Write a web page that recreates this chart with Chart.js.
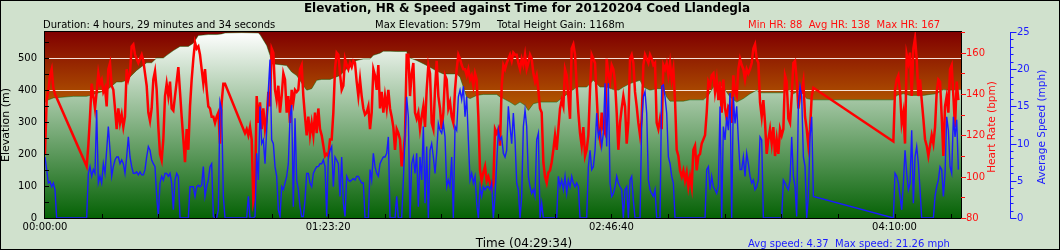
<!DOCTYPE html>
<html>
<head>
<meta charset="utf-8">
<title>Elevation, HR &amp; Speed against Time</title>
<script src="https://cdn.jsdelivr.net/npm/chart.js@4.4.0/dist/chart.umd.min.js"></script>
<style>
  html, body { margin: 0; padding: 0; background: #d0e1cd; }
  canvas { display: block; }
</style>
</head>
<body>
<canvas id="chart" width="1060" height="250"></canvas>
<script>
// one reading every SAMPLE_SEC seconds, ride length 4:29:34
const SAMPLE_SEC = 29.43;
const TOTAL_SEC = 16174;

// heart rate (bpm), null = no reading (line spans the gap)
const hr = [
  111,137,142,149,152,143,140,null,null,null,
  null,null,null,null,null,null,null,null,null,null,
  null,null,null,null,null,105,115,129,145,139,
  133,141,150,145,147,141,143,134,152,155,
  144,142,133,123,133,126,130,124,129,152,
  147,150,163,164,159,157,155,157,159,156,
  150,144,131,127,133,147,151,142,124,111,
  108,118,139,145,139,146,133,132,139,146,
  153,141,129,118,107,123,113,134,147,157,
  165,162,163,159,152,145,152,142,134,133,
  129,129,126,129,131,116,136,145,145,null,
  null,null,null,null,null,null,null,null,null,null,
  121,123,120,124,118,88,92,139,126,136,
  123,133,123,128,141,134,162,160,142,137,
  144,131,139,150,147,131,139,126,142,136,
  142,141,142,152,154,139,129,120,129,120,
  126,120,131,121,133,123,120,115,110,111,
  110,118,118,131,152,160,159,150,142,144,
  157,154,152,155,153,156,155,146,139,147,
  139,133,130,131,134,123,131,152,149,142,
  154,133,141,131,139,133,142,133,129,124,
  113,123,121,118,105,111,120,159,159,139,
  150,155,131,128,131,123,129,134,124,142,
  154,150,126,123,142,156,139,133,123,131,
  149,147,133,136,129,126,142,152,159,157,
  154,152,152,149,152,147,149,144,150,147,
  129,103,98,102,105,98,100,97,94,97,
  123,121,123,115,144,154,152,155,157,159,
  156,160,159,159,155,152,157,154,159,152,
  155,159,157,150,146,149,142,133,131,107,
  100,97,102,103,107,113,120,113,123,133,
  137,134,152,149,139,128,162,164,159,144,
  131,121,115,124,110,113,120,142,159,157,
  155,139,123,118,131,123,121,157,150,146,
  154,152,146,131,113,126,133,139,134,116,
  126,157,159,155,141,134,126,120,128,154,
  159,157,155,159,157,154,155,126,123,128,
  123,154,152,155,149,155,147,152,137,113,
  110,103,100,103,98,102,95,100,95,113,
  115,103,110,111,116,118,120,131,146,144,
  149,150,141,147,137,146,131,147,133,128,
  134,133,126,149,141,139,152,157,154,152,
  147,152,150,152,155,162,164,157,155,136,
  129,137,126,111,118,123,116,124,110,118,
  111,123,120,123,149,146,128,126,139,155,
  156,147,133,139,141,146,129,123,115,123,
  139,143,null,null,null,null,null,null,null,null,
  null,null,null,null,null,null,null,null,null,null,
  null,null,null,null,null,null,null,null,null,null,
  null,null,null,null,null,null,null,null,null,null,
  null,null,null,null,null,null,null,null,null,117,
  142,147,149,141,126,131,116,159,155,160,
  139,162,167,157,139,147,137,128,118,115,
  110,115,120,116,124,141,147,146,129,110,
  134,139,131,152,154,139,124,146,137
];

// average speed (mph)
const speed = [
  8.2,6.5,4.7,4.9,4.2,4.7,3.8,0,null,null,
  null,null,null,null,null,null,null,null,null,null,
  null,null,null,null,null,0,6.0,6.9,5.6,6.5,
  6.0,14.5,4.7,5.6,4.7,7.3,6.0,9.1,12.3,9.1,
  5.6,6.9,7.8,8.2,8.2,7.3,7.8,7.3,6.0,8.2,
  10.9,8.2,6.9,6.0,6.0,6.2,5.8,6.2,5.8,5.8,
  6.5,8.2,9.6,9.1,7.8,7.3,6.9,2.9,0.2,4.7,
  5.6,5.1,6.0,6.0,5.6,6.0,4.7,1.1,5.1,6.0,
  5.6,0,0,0,0,0,0,4.2,4.2,4.2,
  2.9,4.2,4.4,4.2,4.4,6.9,2.9,4.2,5.1,6.9,
  7.3,0.2,0,0,1.1,15.6,14.5,2.9,0,null,
  null,null,null,null,null,null,null,null,null,null,
  0,0,2.9,0,0,0,0.2,8.7,5.1,15.0,
  10.0,10.5,7.3,11.8,17.2,21.3,10.5,10.0,6.9,5.6,
  1.1,0.2,4.2,3.8,4.7,5.6,7.3,13.6,15.2,1.5,
  13.4,5.1,3.8,1.5,0.2,0.2,2.4,6.0,6.0,4.7,
  4.2,6.0,6.5,6.9,6.9,7.3,7.3,7.8,6.9,0.2,
  8.2,9.1,9.6,4.2,8.2,7.8,7.3,2.9,8.2,2.0,
  0.2,5.6,5.1,4.9,5.1,5.3,5.1,5.6,5.6,5.1,
  4.7,4.7,0,0,0,6.5,5.1,8.7,6.9,6.0,
  5.6,7.3,7.8,8.2,8.2,8.7,10.9,0,0,0,
  0,2.9,0,0,0,5.1,10.9,16.3,13.6,0,
  7.3,8.2,6.0,8.7,1.5,8.2,5.1,12.3,2.0,9.6,
  0,9.1,10.0,8.2,6.0,8.7,12.7,11.8,11.4,12.7,
  10.9,4.2,5.1,4.2,8.2,0,12.3,11.8,16.3,17.2,
  15.9,17.7,13.6,16.3,10.5,5.1,6.0,4.7,5.6,2.0,
  0,4.2,2.9,4.2,3.8,4.2,4.2,3.8,4.7,0,
  2.9,7.3,11.8,10.5,10.9,8.7,8.2,9.1,15.0,12.3,
  10.0,14.1,10.5,4.7,3.8,0,2.9,12.3,14.5,12.3,
  5.6,4.2,3.3,3.8,2.9,10.5,11.4,0,2.0,0,
  0,0,0,0,0,0,0,0,5.6,4.2,
  5.1,3.8,5.6,3.3,5.1,4.2,5.6,4.7,4.2,4.7,
  4.2,0,0,0,0,0,6.9,9.1,6.5,6.9,
  9.1,14.1,10.9,11.8,9.6,11.4,18.1,9.6,18.1,4.7,
  2.9,3.3,4.2,5.6,4.7,4.2,3.8,0,3.8,4.2,
  0,5.1,5.6,2.4,0,0,0,0,12.7,16.3,
  17.0,14.1,5.1,3.8,3.3,2.9,3.8,0,0,0,
  17.7,17.9,16.3,14.1,8.2,7.3,5.6,4.7,0,0,
  0,0,0,0,0,0,0,0,0,0,
  0,0,0,0,0,0,0,6.5,6.9,3.8,
  5.6,4.2,3.8,3.3,4.2,15.0,0,12.3,10.5,13.6,
  11.8,16.8,0,16.3,12.7,15.0,10.5,6.5,6.5,8.2,
  5.6,8.7,7.3,5.6,4.7,5.1,3.8,4.2,5.1,10.9,
  10.5,0,0,0,0,0,0,0,0,0,
  0,0,0,5.1,4.7,4.2,3.8,5.1,10.9,5.6,
  4.2,0.2,15.4,17.7,16.3,8.2,6.9,0,2.9,10.9,
  13.6,2.9,null,null,null,null,null,null,null,null,
  null,null,null,null,null,null,null,null,null,null,
  null,null,null,null,null,null,null,null,null,null,
  null,null,null,null,null,null,null,null,null,null,
  null,null,null,null,null,null,null,null,null,0,
  6.0,5.6,4.7,2.9,1.1,4.7,9.1,6.0,3.8,4.7,
  11.8,2.0,8.2,9.6,7.3,3.8,0,0,0,0,
  0,0,0,0,2.9,4.2,5.1,6.9,6.5,2.9,
  6.0,13.6,11.8,6.9,6.0,13.6,10.9,13.2,6.5
];

// elevation (m) at these sample numbers
const elevIdx = [
  0,1,5,17,25,27,37,43,46,49,55,61,64,67,71,73,77,81,86,89,
  92,98,103,106,108,118,128,129,133,135,136,141,145,148,151,155,157,160,163,166,
  171,177,183,187,191,195,197,201,203,207,211,217,218,223,227,231,235,239,247,249,
  251,253,255,259,263,271,273,275,279,282,285,288,290,293,297,307,311,315,319,325,
  329,333,337,341,344,347,351,357,359,363,367,371,373,375,383,387,395,398,401,403,
  407,409,411,415,419,423,427,429,443,445,449,453,457,461,509,511,515,519,527,531,
  535,539,543,548,550
];
const elevation = [
  360,367,375,380,380,383,399,425,425,430,461,485,485,500,500,508,523,536,536,546,
  570,573,573,575,578,579,578,573,539,508,482,479,476,456,445,414,399,404,430,433,
  433,445,476,492,497,497,508,515,521,521,520,520,502,492,482,471,459,450,450,440,
  409,378,373,383,386,386,378,373,362,352,362,352,336,357,362,362,378,393,409,409,
  430,409,409,401,399,409,420,430,409,399,404,404,378,365,365,369,369,383,409,419,
  409,393,378,362,373,388,399,391,391,404,388,399,373,369,369,383,388,383,383,386,
  388,401,399,401,401
];

// axis ticks
const timeTicks = [0, 5000, 10000, 15000];
const timeLabels = ['00:00:00', '01:23:20', '02:46:40', '04:10:00'];
const elevTicks = [0, 100, 200, 300, 400, 500];
const hrTicks = [80, 100, 120, 140, 160];
const speedTicks = [0, 5, 10, 15, 20, 25];

const FONT = '"DejaVu Sans", Verdana, sans-serif';
const RED = '#ff1010';
const BLUE = '#1a1aff';

function text(c, str, x, y, opts) {
  c.save();
  c.font = opts.font || ('10px ' + FONT);
  c.fillStyle = opts.color || '#000';
  c.textAlign = opts.align || 'left';
  c.textBaseline = opts.base || 'alphabetic';
  c.translate(x, y);
  if (opts.rotate) c.rotate(opts.rotate);
  c.fillText(str, 0, 0);
  c.restore();
}

const decor = {
  id: 'decor',
  beforeDraw(chart) {
    const c = chart.ctx, a = chart.chartArea, yE = chart.scales.yElev;
    c.save();
    c.fillStyle = '#d0e1cd';
    c.fillRect(0, 0, chart.width, chart.height);
    c.strokeStyle = '#000';
    c.lineWidth = 1;
    c.strokeRect(0.5, 0.5, chart.width - 1, chart.height - 1);

    // sky behind the elevation profile
    const g = c.createLinearGradient(0, a.top, 0, a.bottom);
    g.addColorStop(0, '#800000');
    g.addColorStop(1, '#ffe000');
    c.fillStyle = g;
    c.fillRect(a.left, a.top, a.right - a.left, a.bottom - a.top);

    c.strokeStyle = 'rgba(255,245,240,0.9)';
    elevTicks.forEach(v => {
      if (v === 0) return;
      const y = Math.round(yE.getPixelForValue(v)) + 0.5;
      c.beginPath(); c.moveTo(a.left, y); c.lineTo(a.right, y); c.stroke();
    });
    c.restore();
  },
  afterDraw(chart) {
    const c = chart.ctx, a = chart.chartArea;
    const xs = chart.scales.x, yE = chart.scales.yElev, yH = chart.scales.yHr, yS = chart.scales.ySpd;
    c.save();
    c.lineWidth = 1;

    // plot frame
    c.strokeStyle = '#000';
    c.strokeRect(a.left - 0.5, a.top - 0.5, a.right - a.left + 1, a.bottom - a.top + 1);

    // elevation axis: inward ticks every 50 m
    c.beginPath();
    for (let v = 50; v < yE.max; v += 50) {
      const y = Math.round(yE.getPixelForValue(v)) + 0.5;
      c.moveTo(a.left, y); c.lineTo(a.left + 4, y);
    }
    // time axis: inward ticks every 1000 s
    for (let t = 1000; t < TOTAL_SEC; t += 1000) {
      const x = Math.round(xs.getPixelForValue(t)) + 0.5;
      c.moveTo(x, a.bottom); c.lineTo(x, a.bottom - 4);
    }
    c.stroke();

    elevTicks.forEach(v => {
      text(c, String(v), a.left - 8, yE.getPixelForValue(v) + 0.5, { align: 'right', base: 'middle' });
    });
    timeTicks.forEach((t, i) => {
      text(c, timeLabels[i], xs.getPixelForValue(t), a.bottom + 11.5, { align: 'center' });
    });

    // heart rate axis on the plot's right edge
    c.strokeStyle = RED;
    c.beginPath();
    for (let v = yH.min; v <= yH.max; v += 10) {
      const y = Math.round(yH.getPixelForValue(v)) + 0.5;
      c.moveTo(a.right, y); c.lineTo(a.right + (v % 20 === 0 ? 5 : 4), y);
    }
    c.stroke();
    hrTicks.forEach(v => {
      text(c, String(v), a.right + 5, yH.getPixelForValue(v) + 0.5, { color: RED, base: 'middle' });
    });

    // speed axis further right
    const sx = 1010.5;
    c.strokeStyle = BLUE;
    c.beginPath();
    c.moveTo(sx, a.top); c.lineTo(sx, a.bottom + 0.5);
    for (let v = 0; v <= yS.max; v += 1) {
      const y = Math.round(yS.getPixelForValue(v)) + 0.5;
      c.moveTo(sx, y); c.lineTo(sx + (v % 5 === 0 ? 6 : 3), y);
    }
    c.stroke();
    speedTicks.forEach(v => {
      text(c, String(v), sx + 6.5, yS.getPixelForValue(v) + 0.5, { color: BLUE, base: 'middle' });
    });

    // axis titles
    const midY = (a.top + a.bottom) / 2;
    text(c, 'Elevation (m)', 6, midY, { rotate: -Math.PI / 2, align: 'center', base: 'middle', font: '11px ' + FONT });
    text(c, 'Heart Rate (bpm)', 992, midY + 2, { rotate: -Math.PI / 2, align: 'center', base: 'middle', color: RED, font: '10.5px ' + FONT });
    text(c, 'Average Speed (mph)', 1042, midY + 2, { rotate: -Math.PI / 2, align: 'center', base: 'middle', color: BLUE, font: '10.5px ' + FONT });

    // header and footer
    text(c, 'Elevation, HR & Speed against Time for 20120204 Coed Llandegla', 527, 12, { align: 'center', font: 'bold 12px ' + FONT });
    text(c, 'Duration: 4 hours, 29 minutes and 34 seconds', 43, 27.5, {});
    text(c, 'Max Elevation: 579m', 375, 27.5, {});
    text(c, 'Total Height Gain: 1168m', 497, 27.5, {});
    text(c, 'Min HR: 88  Avg HR: 138  Max HR: 167', 748, 27.5, { color: RED });
    text(c, 'Time (04:29:34)', 524, 247, { align: 'center', font: '12px ' + FONT });
    text(c, 'Avg speed: 4.37  Max speed: 21.26 mph', 748, 247, { color: BLUE });
    c.restore();
  }
};

const hrPoints = hr.map((v, i) => ({ x: i * SAMPLE_SEC, y: v }));
const speedPoints = speed.map((v, i) => ({ x: i * SAMPLE_SEC, y: v }));
const elevPoints = elevIdx.map((k, j) => ({ x: k * SAMPLE_SEC, y: elevation[j] }));

new Chart(document.getElementById('chart'), {
  type: 'line',
  data: {
    datasets: [
      {
        label: 'Speed',
        data: speedPoints,
        yAxisID: 'ySpd',
        borderColor: BLUE,
        borderWidth: 1.4,
        pointRadius: 0,
        spanGaps: true,
        order: 0
      },
      {
        label: 'Heart rate',
        data: hrPoints,
        yAxisID: 'yHr',
        borderColor: '#ff0000',
        borderWidth: 2.5,
        pointRadius: 0,
        spanGaps: true,
        order: 1
      },
      {
        label: 'Elevation',
        data: elevPoints,
        yAxisID: 'yElev',
        borderColor: 'rgba(0,95,0,0.45)',
        borderWidth: 1,
        pointRadius: 0,
        fill: 'origin',
        backgroundColor: ctx => {
          const a = ctx.chart.chartArea;
          if (!a) return '#7fb07f';
          const g = ctx.chart.ctx.createLinearGradient(0, a.top, 0, a.bottom);
          g.addColorStop(0, '#ffffff');
          g.addColorStop(1, '#056205');
          return g;
        },
        order: 2
      }
    ]
  },
  options: {
    responsive: false,
    animation: false,
    events: [],
    layout: { padding: { left: 45, right: 99, top: 32, bottom: 32 } },
    plugins: { legend: { display: false }, title: { display: false }, tooltip: { enabled: false } },
    scales: {
      x: { type: 'linear', display: false, min: 0, max: TOTAL_SEC },
      yElev: { type: 'linear', display: false, position: 'left', min: 0, max: 581 },
      yHr: { type: 'linear', display: false, position: 'right', min: 80, max: 170 },
      ySpd: { type: 'linear', display: false, position: 'right', min: 0, max: 25 }
    }
  },
  plugins: [decor]
});
</script>
</body>
</html>
